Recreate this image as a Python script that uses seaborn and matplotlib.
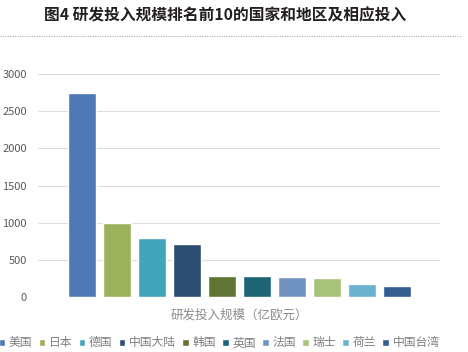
import pandas as pd
import matplotlib
matplotlib.use("Agg")
import matplotlib.pyplot as plt
import seaborn as sns
from matplotlib.lines import Line2D

# data
regions = ["美国", "日本", "德国", "中国大陆", "韩国", "英国", "法国", "瑞士", "荷兰", "中国台湾"]
invest = [2740, 995, 800, 710, 280, 278, 275, 252, 175, 150]
colors = ["#4e79b4", "#9bb15b", "#42a5bb", "#2b4e70", "#607434",
          "#1d6474", "#7093c2", "#a9c27c", "#6ab2cd", "#345d91"]

df = pd.DataFrame({"region": regions, "invest": invest})

sns.set_theme(style="white")
plt.rcParams['font.family'] = ['Noto Sans CJK SC', 'DejaVu Sans']

fig = plt.figure(figsize=(4.68, 3.52), dpi=100)
ax = fig.add_axes([0.081, 0.156, 0.859, 0.634])

sns.barplot(data=df, x="region", y="invest", hue="region", palette=colors,
            width=0.79, legend=True, ax=ax, saturation=1)

handles, labels = ax.get_legend_handles_labels()
ax.get_legend().remove()

ax.set_ylim(0, 3000)
ax.set_xlim(-1.26, 10.23)
ax.set_yticks(range(0, 3001, 500))
ax.tick_params(axis="y", labelsize=8, labelcolor="#595959", length=0, pad=8)
ax.set_xticks([])
ax.yaxis.grid(True, color="#dedede", linewidth=0.8)
ax.set_axisbelow(True)
for s in ax.spines.values():
    s.set_visible(False)
ax.set_ylabel("")
ax.set_xlabel("研发投入规模（亿欧元）", fontsize=9, color="#8c8c8c", labelpad=8)

fig.text(0.481, 0.957, "图4 研发投入规模排名前10的国家和地区及相应投入",
         ha="center", va="center", fontsize=11.3, fontweight="bold", color="#231f20")
fig.add_artist(Line2D([0.0, 0.985], [0.897, 0.897], transform=fig.transFigure,
                      color="#9a9a9a", linestyle=(0, (1, 1.5)), linewidth=0.7))

fig.legend(handles, labels, loc="center", bbox_to_anchor=(0.468, 0.026), ncol=10,
           frameon=False, fontsize=8.5, labelcolor="#7f7f7f",
           handlelength=0.55, handleheight=0.55, handletextpad=0.3,
           columnspacing=0.55, borderpad=0)

fig.savefig("out.png", dpi=100)
